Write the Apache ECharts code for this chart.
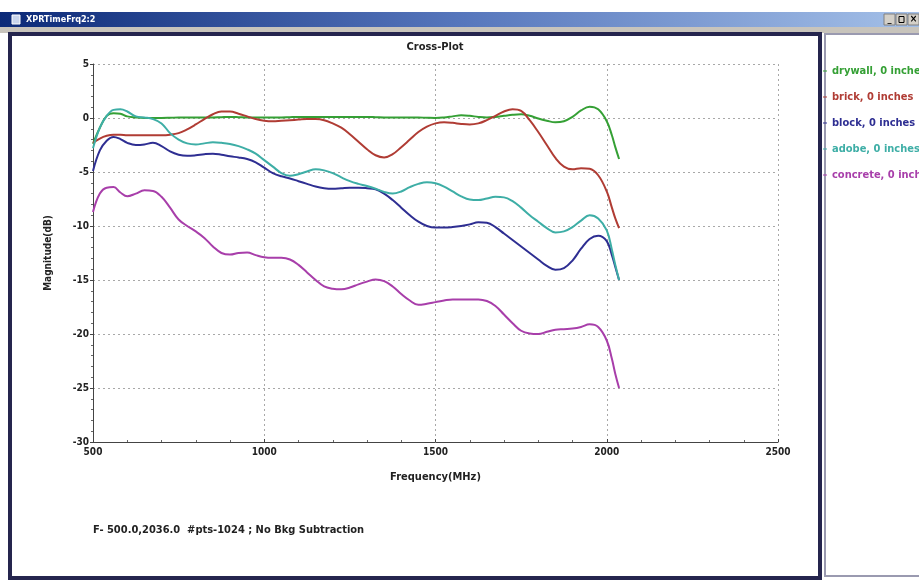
<!DOCTYPE html>
<html>
<head>
<meta charset="utf-8">
<script src="https://cdn.jsdelivr.net/npm/echarts@6/dist/echarts.min.js"></script>
<style>
html,body{margin:0;padding:0;background:#ffffff;}
#chart{width:919px;height:580px;}
</style>
</head>
<body>
<div id="chart"></div>
<script>
// ---- data ----
const freqs = [500,520,540,560,580,600,625,650,675,700,725,750,775,800,825,850,875,900,925,950,975,1000,1025,1050,1075,1100,1125,1150,1175,1200,1225,1250,1275,1300,1325,1350,1375,1400,1425,1450,1475,1500,1525,1550,1575,1600,1625,1650,1675,1700,1725,1750,1775,1800,1825,1850,1875,1900,1925,1950,1975,2000,2015,2025,2036];

const drywall = [-2.4,-0.9,0.2,0.45,0.4,0.15,0.05,0.0,0.0,0.0,0.02,0.05,0.05,0.05,0.05,0.05,0.08,0.1,0.08,0.05,0.05,0.05,0.05,0.05,0.08,0.1,0.1,0.1,0.1,0.1,0.1,0.1,0.1,0.1,0.08,0.05,0.05,0.05,0.05,0.05,0.02,0.0,0.05,0.15,0.25,0.2,0.1,0.05,0.1,0.2,0.3,0.35,0.2,-0.05,-0.25,-0.4,-0.3,0.1,0.7,1.05,0.8,-0.3,-1.6,-2.7,-3.8];

const brick = [-2.3,-1.9,-1.65,-1.55,-1.55,-1.6,-1.6,-1.6,-1.6,-1.6,-1.55,-1.4,-1.05,-0.6,-0.1,0.35,0.6,0.6,0.4,0.15,-0.1,-0.25,-0.3,-0.25,-0.2,-0.15,-0.1,-0.1,-0.2,-0.5,-0.9,-1.5,-2.2,-2.9,-3.45,-3.65,-3.35,-2.7,-2.0,-1.3,-0.8,-0.5,-0.4,-0.45,-0.55,-0.6,-0.5,-0.2,0.2,0.6,0.8,0.65,-0.2,-1.3,-2.5,-3.7,-4.5,-4.75,-4.65,-4.7,-5.3,-6.8,-8.3,-9.3,-10.2];

const block = [-4.9,-3.0,-2.1,-1.75,-1.95,-2.3,-2.5,-2.45,-2.3,-2.6,-3.1,-3.4,-3.5,-3.45,-3.35,-3.3,-3.4,-3.55,-3.65,-3.8,-4.1,-4.6,-5.1,-5.4,-5.6,-5.85,-6.1,-6.35,-6.5,-6.55,-6.5,-6.45,-6.45,-6.5,-6.6,-7.0,-7.6,-8.3,-9.0,-9.6,-10.0,-10.15,-10.15,-10.1,-10.0,-9.85,-9.65,-9.7,-10.1,-10.7,-11.3,-11.9,-12.5,-13.1,-13.7,-14.05,-13.9,-13.2,-12.1,-11.2,-10.9,-11.4,-12.7,-13.8,-15.0];

const adobe = [-2.8,-0.9,0.2,0.75,0.8,0.6,0.15,0.05,-0.1,-0.5,-1.4,-2.0,-2.35,-2.45,-2.35,-2.25,-2.3,-2.4,-2.6,-2.9,-3.3,-3.9,-4.5,-5.1,-5.35,-5.2,-4.95,-4.75,-4.85,-5.1,-5.5,-5.85,-6.1,-6.3,-6.55,-6.85,-7.0,-6.8,-6.4,-6.1,-5.95,-6.05,-6.35,-6.8,-7.25,-7.55,-7.6,-7.45,-7.3,-7.35,-7.7,-8.3,-9.0,-9.6,-10.2,-10.6,-10.5,-10.1,-9.5,-9.0,-9.3,-10.4,-12.2,-13.6,-15.0];

const concrete = [-8.7,-7.0,-6.45,-6.4,-6.9,-7.25,-7.0,-6.7,-6.75,-7.3,-8.3,-9.4,-10.0,-10.5,-11.1,-11.9,-12.5,-12.65,-12.5,-12.45,-12.7,-12.9,-12.95,-12.95,-13.1,-13.6,-14.3,-15.0,-15.6,-15.8,-15.85,-15.7,-15.4,-15.15,-14.95,-15.1,-15.6,-16.3,-16.9,-17.3,-17.2,-17.05,-16.9,-16.8,-16.8,-16.8,-16.8,-16.95,-17.4,-18.2,-19.0,-19.7,-19.95,-20.0,-19.8,-19.6,-19.55,-19.5,-19.35,-19.1,-19.35,-20.6,-22.3,-23.7,-25.0];

const seriesNames = ['drywall, 0 inches','brick, 0 inches','block, 0 inches','adobe, 0 inches','concrete, 0 inches'];
const seriesValues = [drywall, brick, block, adobe, concrete];
const seriesColors = ['#35a035','#b03c34','#2e2e92','#3eaea6','#a83eaa'];

const xTicks = [500,1000,1500,2000,2500];
const yTicks = [5,0,-5,-10,-15,-20,-25,-30];

const FONT = "'Liberation Sans Narrow','DejaVu Sans Condensed','Liberation Sans',sans-serif";

const chart = echarts.init(document.getElementById('chart'), null, {renderer:'canvas'});

const series = seriesNames.map((n,k)=>({
  name:n, type:'line', showSymbol:false, smooth:0.4,
  data: freqs.map((f,i)=>[f, seriesValues[k][i]]),
  lineStyle:{width:2, color:seriesColors[k]},
  itemStyle:{color:seriesColors[k]},
  z: 3
}));

const option = {
  animation:false,
  backgroundColor:'#ffffff',
  grid:{left:93, right:141, top:64, bottom:138, containLabel:false},
  xAxis:{
    type:'value', min:xTicks[0], max:xTicks[xTicks.length-1], interval:500,
    name:'Frequency(MHz)', nameLocation:'middle', nameGap:30,
    nameTextStyle:{fontFamily:FONT, fontWeight:'bold', fontSize:11, color:'#222'},
    axisLine:{show:true, onZero:false, lineStyle:{color:'#444', width:1}},
    axisTick:{show:true, inside:true, length:3, lineStyle:{color:'#444'}},
    minorTick:{show:true, splitNumber:5, length:2, lineStyle:{color:'#666'}},
    axisLabel:{fontFamily:FONT, fontWeight:'bold', fontSize:10, color:'#222', margin:5, formatter:(v)=>String(v)},
    splitLine:{show:true, lineStyle:{type:[2,3], color:'#a8a8a8', width:1}}
  },
  yAxis:{
    type:'value', min:yTicks[yTicks.length-1], max:yTicks[0], interval:5,
    name:'Magnitude(dB)', nameLocation:'middle', nameGap:40,
    nameTextStyle:{fontFamily:FONT, fontWeight:'bold', fontSize:10, color:'#222'},
    axisLine:{show:true, onZero:false, lineStyle:{color:'#444', width:1}},
    axisTick:{show:true, inside:false, length:3, lineStyle:{color:'#444'}},
    minorTick:{show:true, splitNumber:5, length:2, lineStyle:{color:'#666'}},
    axisLabel:{fontFamily:FONT, fontWeight:'bold', fontSize:10, color:'#222', margin:4, formatter:(v)=>String(v)},
    splitLine:{show:true, lineStyle:{type:[2,3], color:'#a8a8a8', width:1}}
  },
  legend:{
    orient:'vertical', left:823, top:65, padding:0,
    icon:'rect', itemWidth:4, itemHeight:1, itemGap:14,
    data: seriesNames.map((n,k)=>({name:n, textStyle:{color:seriesColors[k]}})),
    textStyle:{fontFamily:FONT, fontWeight:'bold', fontSize:11, lineHeight:12},
    selectedMode:false
  },
  graphic:[
    // window title bar
    {type:'rect', z:-10, shape:{x:0,y:12,width:919,height:15},
     style:{fill:new echarts.graphic.LinearGradient(0,0,1,0,[{offset:0,color:'#0c2a78'},{offset:0.5,color:'#5676bc'},{offset:1,color:'#a4c0e8'}])}},
    {type:'rect', z:-9, shape:{x:12,y:15,width:8,height:9}, style:{fill:'#c8d4ec', stroke:'#ffffff', lineWidth:1}},
    {type:'text', z:-9, style:{x:26, y:19.5, text:'XPRTimeFrq2:2', fill:'#ffffff', font:"bold 9px "+FONT, textVerticalAlign:'middle'}},
    {type:'rect', z:-9, shape:{x:884,y:14,width:11,height:11}, style:{fill:'#d4d0c8', stroke:'#808080', lineWidth:1}},
    {type:'rect', z:-9, shape:{x:896,y:14,width:11,height:11}, style:{fill:'#d4d0c8', stroke:'#808080', lineWidth:1}},
    {type:'rect', z:-9, shape:{x:908,y:14,width:11,height:11}, style:{fill:'#d4d0c8', stroke:'#808080', lineWidth:1}},
    {type:'text', z:-8, style:{x:889.5, y:19.5, text:'_', fill:'#000', font:"bold 9px "+FONT, textAlign:'center', textVerticalAlign:'middle'}},
    {type:'rect', z:-8, shape:{x:899,y:16.5,width:5,height:6}, style:{fill:'none', stroke:'#000', lineWidth:1}},
    {type:'text', z:-8, style:{x:913.5, y:19.5, text:'×', fill:'#000', font:"bold 10px "+FONT, textAlign:'center', textVerticalAlign:'middle'}},
    // gray strip under title bar
    {type:'rect', z:-10, shape:{x:0,y:27,width:919,height:6}, style:{fill:'#c8c4bc'}},
    // left panel frame
    {type:'rect', z:-10, shape:{x:10,y:34,width:810,height:544}, style:{fill:'#ffffff', stroke:'#25254e', lineWidth:4}},
    // legend panel frame
    {type:'rect', z:-10, shape:{x:825,y:34,width:100,height:542}, style:{fill:'#ffffff', stroke:'#9a9ab0', lineWidth:2}},
    // plot title
    {type:'text', z:5, style:{x:435, y:47, text:'Cross-Plot', fill:'#222', font:"bold 11px "+FONT, textAlign:'center', textVerticalAlign:'middle'}},
    // footer
    {type:'text', z:5, style:{x:93, y:530, text:'F- 500.0,2036.0  #pts-1024 ; No Bkg Subtraction', fill:'#222', font:"bold 11px "+FONT, textVerticalAlign:'middle'}}
  ],
  series: series
};
chart.setOption(option);
</script>
</body>
</html>
